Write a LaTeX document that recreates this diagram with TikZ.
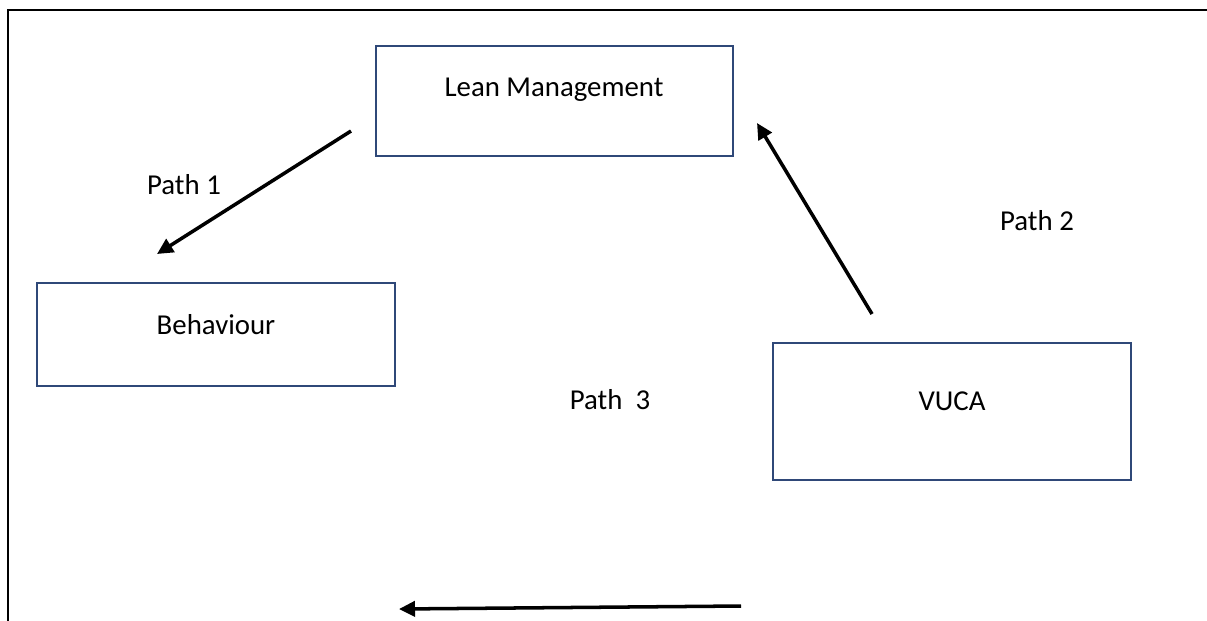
\documentclass[tikz,border=0pt]{standalone}
\usepackage{fontspec}
\setmainfont{Carlito}
\usetikzlibrary{arrows.meta}
\definecolor{boxblue}{RGB}{47,72,120}
\begin{document}
\begin{tikzpicture}[x=0.025cm, y=-0.025cm,
    box/.style={rectangle, draw=boxblue, line width=1.3pt, inner sep=0pt},
    lbl/.style={font=\fontsize{20.5}{24}\selectfont, inner sep=0pt},
    link/.style={line width=2.5pt, -{Triangle[length=0.4cm, width=0.38cm]}}]
          \useasboundingbox (0,0) rectangle (1207,620);
          \draw[line width=1.1pt] (8,700) -- (8,10) -- (1300,10);

          \node[box, minimum width=8.925cm, minimum height=2.75cm]  (lm)  at (554.5,101) {};
          \node[box, minimum width=8.95cm,  minimum height=2.575cm] (beh) at (216,334.5) {};
          \node[box, line width=1.6pt, minimum width=8.95cm, minimum height=3.425cm] (vuca) at (952,411.5) {};

          \node[lbl] (lmtext)   at (554,90)  {Lean Management};
          \node[lbl] (behtext)  at (216,325) {Behaviour};
          \node[lbl] (vucatext) at (952,401) {VUCA};

          \node[lbl] (p1) at (184,185)  {Path 1};
          \node[lbl] (p2) at (1037,221) {Path 2};
          \node[lbl] (p3) at (610,400)  {Path\ \ 3};

          \coordinate (a1s) at (351,131);
          \coordinate (a1e) at (157,254);
          \coordinate (a2s) at (872,314);
          \coordinate (a2e) at (757,123);
          \coordinate (a3s) at (741,606);
          \coordinate (a3e) at (399,609);

          \draw[link] (a1s) -- (a1e);
          \draw[link] (a2s) -- (a2e);
          \draw[link] (a3s) -- (a3e);
        \end{tikzpicture}
\end{document}
